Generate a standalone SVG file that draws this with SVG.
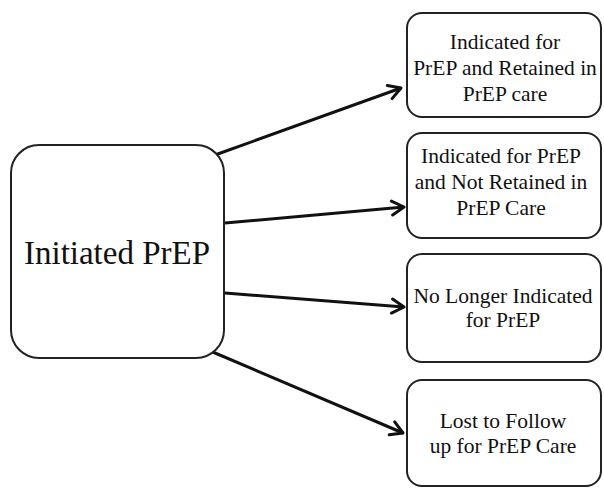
<svg xmlns="http://www.w3.org/2000/svg" width="604" height="488" viewBox="0 0 604 488">
<defs>
<marker id="arr" markerWidth="18" markerHeight="18" refX="14" refY="9" orient="auto" markerUnits="userSpaceOnUse">
<path d="M2,2 L14,9 L2,16" fill="none" stroke="#111" stroke-width="3" stroke-linecap="round" stroke-linejoin="round"/>
</marker>
<style>
.box{fill:#fff;stroke:#222;stroke-width:2}
.t{font-family:"Liberation Serif","Times New Roman",serif;fill:#111;text-anchor:middle}
.s{font-size:21.5px}
.c{stroke:#111;stroke-width:3;fill:none;marker-end:url(#arr)}
</style>
</defs>
<rect width="604" height="488" fill="#fff"/>
<g id="connectors">
<line class="c" x1="215" y1="155" x2="401" y2="88"/>
<line class="c" x1="225" y1="223" x2="404" y2="207"/>
<line class="c" x1="225" y1="293" x2="404" y2="307"/>
<line class="c" x1="208" y1="350" x2="403" y2="433"/>
</g>
<g id="n0">
<rect class="box" x="11" y="145" width="213" height="213" rx="28"/>
<text class="t" x="117" y="264" font-size="33">Initiated PrEP</text>
</g>
<g id="n1">
<rect class="box" x="407" y="13" width="194" height="104" rx="15"/>
<text class="t s" x="505" y="49">Indicated for</text>
<text class="t s" x="505" y="75">PrEP and Retained in</text>
<text class="t s" x="505" y="101">PrEP care</text>
</g>
<g id="n2">
<rect class="box" x="407" y="133" width="194" height="105" rx="15"/>
<text class="t s" x="501" y="163">Indicated for PrEP</text>
<text class="t s" x="501" y="189">and Not Retained in</text>
<text class="t s" x="501" y="215">PrEP Care</text>
</g>
<g id="n3">
<rect class="box" x="407" y="254" width="194" height="108" rx="15"/>
<text class="t s" x="503" y="303">No Longer Indicated</text>
<text class="t s" x="503" y="327">for PrEP</text>
</g>
<g id="n4">
<rect class="box" x="407" y="380" width="194" height="106" rx="15"/>
<text class="t s" x="503" y="428">Lost to Follow</text>
<text class="t s" x="503" y="453">up for PrEP Care</text>
</g>
</svg>
